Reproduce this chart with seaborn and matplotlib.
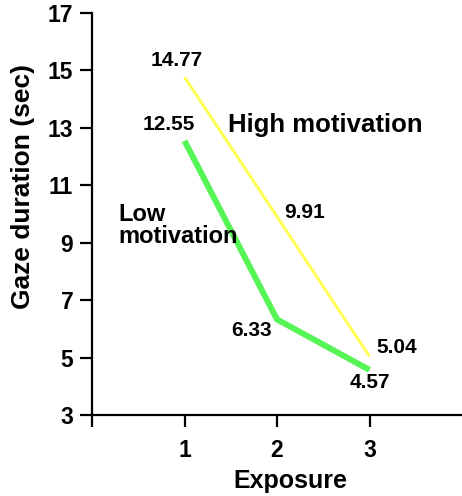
import numpy as np
import pandas as pd
import matplotlib
matplotlib.use("Agg")
import matplotlib.pyplot as plt
import seaborn as sns

#data
exposure = [1, 2, 3]
high_motivation = [14.77, 9.91, 5.04]
low_motivation = [12.55, 6.33, 4.57]

gaze = pd.DataFrame({
    "exposure": exposure * 2,
    "duration": high_motivation + low_motivation,
    "group": ["High motivation"] * 3 + ["Low motivation"] * 3,
    })

sns.set_style("ticks")
plt.rcParams['font.family'] = ['Liberation Sans', 'DejaVu Sans']
plt.rcParams['font.weight'] = 'bold'
plt.rcParams['text.color'] = 'black'
plt.rcParams['axes.labelcolor'] = 'black'
plt.rcParams['xtick.color'] = 'black'
plt.rcParams['ytick.color'] = 'black'

fig = plt.figure(figsize=(4.62, 4.96), dpi=100)
ax = fig.add_axes([92/462, 81/496, 1 - 92/462, 402/496])

sns.lineplot(
    data = gaze[gaze["group"] == "High motivation"],
    x = "exposure",
    y = "duration",
    color = "#ffff55",
    linewidth = 2.2,
    ax = ax,
    )
sns.lineplot(
    data = gaze[gaze["group"] == "Low motivation"],
    x = "exposure",
    y = "duration",
    color = "#55f555",
    linewidth = 4.3,
    ax = ax,
    )
for line in ax.get_lines():
    line.set_solid_joinstyle('miter')
    line.set_solid_capstyle('butt')

#value labels
lbl = dict(fontsize=15, fontweight='bold', color='black')
ax.text(exposure[0] - 0.08, high_motivation[0] + 0.25, f"{high_motivation[0]:.2f}", ha='center', va='bottom', **lbl)
ax.text(exposure[0] - 0.17, low_motivation[0] + 0.25, f"{low_motivation[0]:.2f}", ha='center', va='bottom', **lbl)
ax.text(exposure[1] + 0.08, high_motivation[1] + 0.15, f"{high_motivation[1]:.2f}", ha='left', va='center', **lbl)
ax.text(exposure[1] - 0.05, low_motivation[1] - 0.4, f"{low_motivation[1]:.2f}", ha='right', va='center', **lbl)
ax.text(exposure[2] + 0.07, high_motivation[2] + 0.3, f"{high_motivation[2]:.2f}", ha='left', va='center', **lbl)
ax.text(exposure[2] + 0.0, low_motivation[2] - 0.45, f"{low_motivation[2]:.2f}", ha='center', va='center', **lbl)

ax.text(1.47, 13.1, "High motivation", fontsize=18.5, fontweight='bold', ha='left', va='center')
ax.text(0.28, 9.6, "Low\nmotivation", fontsize=17, fontweight='bold', ha='left', va='center', linespacing=0.95)

ax.set_xlim(0, 4)
ax.set_ylim(3, 17)
ax.set_xticks([0, 1, 2, 3])
ax.set_xticklabels(["", "1", "2", "3"])
ax.set_yticks(np.arange(3, 18, 2))
ax.tick_params(labelsize=16.5, width=1.6, length=8.5, pad=5, color='black')
ax.tick_params(axis='x', pad=9)
for lab in ax.get_xticklabels() + ax.get_yticklabels():
    lab.set_fontweight('bold')
ax.set_xlabel("Exposure", fontsize=18, fontweight='bold')
ax.xaxis.set_label_coords(0.535, -0.135)
ax.set_ylabel("Gaze duration (sec)", fontsize=19, fontweight='bold')
ax.yaxis.set_label_coords(-0.155, 0.568)
sns.despine(ax=ax)
for sp in ["left", "bottom"]:
    ax.spines[sp].set_linewidth(1.6)
    ax.spines[sp].set_color('black')

fig.savefig("out.png", dpi=100)
